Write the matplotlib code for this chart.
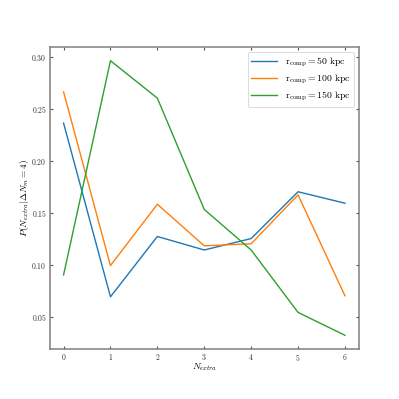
import numpy as np
import matplotlib
matplotlib.use("Agg")
import matplotlib.pyplot as plt

plt.rcParams['font.family'] = 'serif'
plt.rcParams['font.serif'] = ['cmr10', 'DejaVu Serif']
plt.rcParams['mathtext.fontset'] = 'cm'
plt.rcParams['axes.formatter.use_mathtext'] = True

n_extra = [0, 1, 2, 3, 4, 5, 6]
p_50 = [0.236, 0.069, 0.127, 0.114, 0.125, 0.170, 0.159]
p_100 = [0.266, 0.099, 0.158, 0.118, 0.120, 0.167, 0.070]
p_150 = [0.090, 0.296, 0.260, 0.153, 0.114, 0.054, 0.032]
labels = [r'$\mathrm{r}_{\mathrm{comp}} = 50\ \mathrm{kpc}$',
          r'$\mathrm{r}_{\mathrm{comp}} = 100\ \mathrm{kpc}$',
          r'$\mathrm{r}_{\mathrm{comp}} = 150\ \mathrm{kpc}$']

fig = plt.figure(figsize=(3.99, 3.99), dpi=100)
ax = fig.add_axes([49.5/399, 50/399, 309.5/399, 302/399])

for p, lab in zip([p_50, p_100, p_150], labels):
    ax.plot(n_extra, p, lw=1, label=lab)

for s in ax.spines.values():
    s.set_color('#808080')
    s.set_linewidth(1.1)

ax.set_xlabel(r'$N_{extra}$', fontsize=6.8, labelpad=-1)
ax.set_ylabel(r'$P(N_{extra}|\Delta N_{m} = 4)$', fontsize=6.8, labelpad=0)
ax.tick_params(direction='in', top=True, right=True, labelsize=5.5,
               length=2, width=0.8, color='#555555', labelcolor='#333333', pad=2)
leg = ax.legend(fontsize=7, loc='upper right', handlelength=2.6, labelspacing=0.4)
leg.get_frame().set_linewidth(0.6)

fig.savefig('out.png', dpi=100)
